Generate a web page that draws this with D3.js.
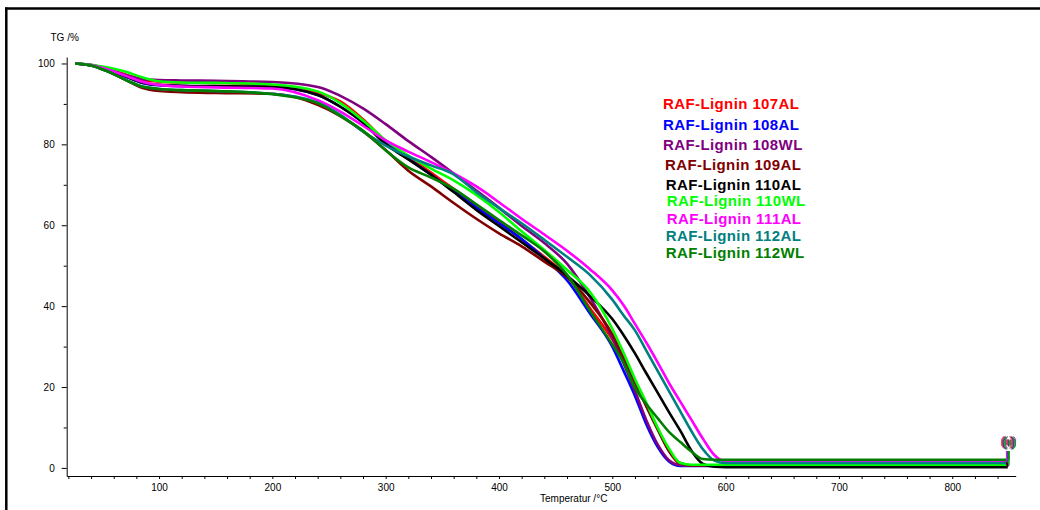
<!DOCTYPE html>
<html>
<head>
<meta charset="utf-8">
<script src="https://cdn.jsdelivr.net/npm/d3@7/dist/d3.min.js"></script>
<style>
  html, body { margin: 0; padding: 0; background: #fff; }
  svg { display: block; }
  text { font-family: "Liberation Sans", Arial, sans-serif; }
</style>
</head>
<body>
<script>
// ---------------- DATA ----------------
const temperatures = [26, 40, 55, 70, 85, 100, 120, 150, 200, 240, 260, 280, 300, 320, 340, 360, 380, 400, 420, 440, 460, 480, 500, 510, 520, 530, 540, 550, 560, 570, 580, 590, 600, 610, 700, 849];

const seriesNames = ["RAF-Lignin 107AL", "RAF-Lignin 108AL", "RAF-Lignin 108WL", "RAF-Lignin 109AL", "RAF-Lignin 110AL", "RAF-Lignin 110WL", "RAF-Lignin 111AL", "RAF-Lignin 112AL", "RAF-Lignin 112WL"];

const tg107AL = [100, 99.6, 98.6, 97.3, 96.0, 95.5, 95.3, 95.2, 94.6, 92.8, 90.6, 86.2, 80.8, 77.0, 73.0, 69.0, 65.0, 61.0, 56.5, 52.2, 47.4, 39.6, 31.8, 27.0, 21.0, 15.4, 9.7, 4.2, 0.9, 0.6, 0.6, 0.6, 0.6, 0.6, 0.6, 0.6];
const tg108AL = [100, 99.5, 98.3, 96.8, 95.2, 94.6, 94.4, 94.3, 94.2, 92.2, 89.3, 85.4, 80.3, 76.4, 72.5, 68.4, 64.4, 60.5, 56.6, 51.8, 46.4, 38.3, 30.0, 24.0, 17.8, 10.8, 5.2, 1.6, 0.5, 0.5, 0.5, 0.5, 0.5, 0.5, 0.5, 0.5];
const tg108WL = [100, 99.6, 98.5, 97.2, 96.2, 95.9, 95.8, 95.7, 95.4, 94.2, 92.0, 88.9, 85.0, 80.8, 76.9, 72.8, 68.6, 64.3, 59.8, 55.6, 50.5, 42.3, 32.2, 25.8, 19.0, 11.8, 5.8, 1.9, 0.7, 0.6, 0.6, 0.6, 0.6, 0.6, 0.6, 0.6];
const tg109AL = [100, 99.5, 98.0, 96.0, 94.0, 93.2, 92.9, 92.7, 92.5, 89.8, 87.0, 83.2, 78.6, 73.5, 69.6, 65.5, 61.6, 58.0, 54.8, 51.0, 47.2, 41.0, 33.0, 27.2, 21.2, 15.2, 9.5, 4.2, 1.2, 0.6, 0.6, 0.6, 0.6, 0.6, 0.6, 0.6];
const tg110AL = [100, 99.6, 98.4, 96.9, 95.3, 94.7, 94.5, 94.4, 94.2, 92.2, 89.3, 85.4, 80.0, 76.3, 72.5, 68.2, 63.8, 59.8, 55.8, 51.8, 47.6, 42.6, 36.8, 32.8, 28.3, 23.4, 18.6, 13.8, 9.2, 4.2, 1.0, 0.3, 0.2, 0.2, 0.2, 0.2];
const tg110WL = [100, 99.7, 99.0, 98.0, 96.6, 95.6, 95.3, 95.2, 94.8, 93.1, 90.2, 85.9, 81.0, 77.2, 74.0, 71.1, 67.5, 63.3, 58.5, 53.9, 49.0, 43.6, 34.4, 28.4, 22.0, 16.1, 10.0, 4.8, 1.2, 0.8, 0.8, 0.8, 0.8, 0.8, 0.8, 0.8];
const tg111AL = [100, 99.6, 98.5, 97.0, 95.5, 94.7, 94.3, 94.1, 93.8, 90.9, 88.1, 84.6, 81.0, 78.2, 75.6, 72.8, 69.6, 65.7, 61.6, 57.7, 53.7, 49.2, 43.9, 40.2, 35.6, 31.0, 26.1, 21.0, 16.4, 11.8, 7.2, 3.2, 1.6, 1.6, 1.6, 1.6];
const tg112AL = [100, 99.5, 98.0, 96.0, 94.3, 93.7, 93.4, 93.2, 92.5, 90.3, 87.3, 83.2, 79.7, 77.0, 74.8, 72.6, 68.2, 64.3, 60.5, 56.4, 52.2, 47.8, 41.6, 37.7, 34.0, 29.0, 24.0, 19.0, 14.0, 9.0, 4.6, 1.8, 1.2, 1.2, 1.2, 1.2];
const tg112WL = [100, 99.5, 98.0, 96.0, 94.3, 93.7, 93.4, 93.2, 92.4, 90.2, 87.0, 83.4, 78.5, 74.3, 71.8, 69.0, 65.2, 61.3, 57.5, 53.5, 47.8, 39.0, 30.5, 26.0, 19.8, 15.8, 12.3, 8.9, 6.4, 4.0, 2.2, 2.0, 2.0, 2.0, 2.0, 2.0];

const seriesValues = [tg107AL, tg108AL, tg108WL, tg109AL, tg110AL, tg110WL, tg111AL, tg112AL, tg112WL];

const xMajorTicks = [100, 200, 300, 400, 500, 600, 700, 800];
const yMajorTicks = [0, 20, 40, 60, 80, 100];

// ---------------- STYLE ----------------
const seriesColors = ["#ff0000", "#0000ff", "#800080", "#800000", "#000000", "#00ff00", "#ff00ff", "#008080", "#008000"];

const W = 1040, H = 510;
const svg = d3.select("body").append("svg").attr("width", W).attr("height", H);
svg.append("rect").attr("width", W).attr("height", H).attr("fill", "#fff");

// frame (top and left edges)
svg.append("line").attr("x1", 5).attr("x2", W).attr("y1", 8.5).attr("y2", 8.5)
  .attr("stroke", "#000").attr("stroke-width", 2.5);
svg.append("line").attr("x1", 6.3).attr("x2", 6.3).attr("y1", 7.5).attr("y2", H)
  .attr("stroke", "#000").attr("stroke-width", 2.5);

const x = d3.scaleLinear().domain([18.5, 856]).range([66.7, 1015.7]);
const y = d3.scaleLinear().domain([-2, 101.6]).range([476, 57]);

// X axis
const xAxis = d3.axisBottom(x)
  .tickValues(d3.range(20, 841, 20))
  .tickSize(3).tickSizeOuter(0).tickPadding(5)
  .tickFormat(d => xMajorTicks.includes(d) ? d : "");
const gx = svg.append("g").attr("transform", "translate(0,476)").call(xAxis);
gx.selectAll("text").attr("font-size", 10).attr("font-family", "Liberation Sans, Arial, sans-serif").attr("fill", "#000");
gx.selectAll("line, path").attr("stroke", "#000");

// Y axis
const yAxis = d3.axisLeft(y)
  .tickValues(d3.range(0, 101, 10))
  .tickSize(5).tickSizeOuter(0).tickPadding(7)
  .tickFormat(d => yMajorTicks.includes(d) ? d : "");
const gy = svg.append("g").attr("transform", "translate(66.7,0)").call(yAxis);
gy.selectAll("text").attr("font-size", 10).attr("font-family", "Liberation Sans, Arial, sans-serif").attr("fill", "#000");
gy.selectAll("line, path").attr("stroke", "#000");
gy.selectAll(".tick").filter(d => !yMajorTicks.includes(d)).select("line").attr("x2", -3);

// axis titles
svg.append("text").attr("x", 50.5).attr("y", 41.3).attr("font-size", 10).attr("fill", "#000").text("TG /%");
svg.append("text").attr("x", 540).attr("y", 501.5).attr("font-size", 10).attr("fill", "#000").text("Temperatur /°C");

// series lines
const line = d3.line()
  .x((d, i) => x(temperatures[i]))
  .y(d => y(d))
  .curve(d3.curveMonotoneX);

const gLines = svg.append("g");
seriesValues.forEach((vals, k) => {
  gLines.append("path")
    .attr("d", line(vals))
    .attr("fill", "none")
    .attr("stroke", seriesColors[k])
    .attr("stroke-width", 2.6)
    .attr("stroke-linejoin", "round");
});

// end-of-run markers at the final temperature
const lastT = temperatures[temperatures.length - 1];
seriesValues.forEach((vals, k) => {
  const xe = x(lastT) + (k % 3 - 1) * 1.2;
  const v0 = vals[vals.length - 1];
  gLines.append("line")
    .attr("x1", xe).attr("x2", xe)
    .attr("y1", y(v0)).attr("y2", y(4.2))
    .attr("stroke", seriesColors[k]).attr("stroke-width", 1.2);
  const gx0 = xe - 5 + (k % 4) * 0.8, gy0 = y(7.8) + (k % 2);
  gLines.append("path")
    .attr("d", `M${gx0 + 2},${gy0} L${gx0},${gy0 + 3} L${gx0},${gy0 + 9} L${gx0 + 2},${gy0 + 12} M${gx0 + 8},${gy0} L${gx0 + 10},${gy0 + 3} L${gx0 + 10},${gy0 + 9} L${gx0 + 8},${gy0 + 12} M${gx0 + 5},${gy0 + 3} L${gx0 + 5},${gy0 + 9}`)
    .attr("fill", "none").attr("stroke", seriesColors[k]).attr("stroke-width", 0.8);
});

// legend (text only)
const legendPos = [[663, 108.6], [663, 129.6], [663, 149.6], [665, 169.6], [665.7, 189.6], [666.7, 206.3], [666.7, 223.6], [665.7, 241], [665.7, 257.6]];
seriesNames.forEach((name, k) => {
  svg.append("text")
    .attr("x", legendPos[k][0]).attr("y", legendPos[k][1])
    .attr("font-size", 15).attr("font-weight", "bold")
    .attr("letter-spacing", 0.4)
    .attr("fill", seriesColors[k])
    .text(name);
});
</script>
</body>
</html>
